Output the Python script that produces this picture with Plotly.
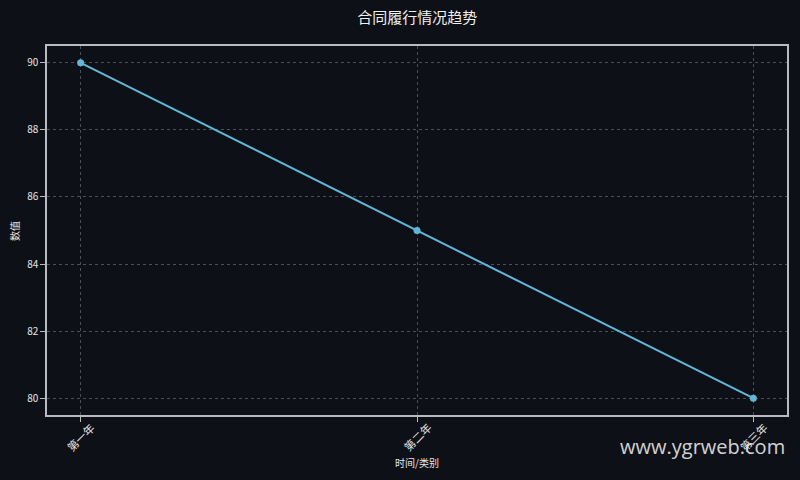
import plotly.graph_objects as go

# 数据
categories = ["第一年", "第二年", "第三年"]
values = [90, 85, 80]

title_text = "合同履行情况趋势"
x_title = "时间/类别"
y_title = "数值"
watermark = "www.ygrweb.com"

bg = "#0d1117"
line_color = "#62b6d8"
grid_color = "#4a4f57"
axis_color = "#b8bcc2"
font_family = "Noto Sans CJK SC, DejaVu Sans, sans-serif"

fig = go.Figure()
fig.add_trace(go.Scatter(
    x=categories,
    y=values,
    mode="lines+markers",
    line=dict(color=line_color, width=2),
    marker=dict(color=line_color, size=7),
    showlegend=False,
))

fig.update_layout(
    width=800,
    height=480,
    paper_bgcolor=bg,
    plot_bgcolor=bg,
    font=dict(family=font_family, color="#e6e6e6", size=10),
    margin=dict(l=47, r=13, t=46, b=65),
    title=dict(
        text=title_text,
        x=0.5215, xanchor="center",
        y=0.963, yanchor="middle",
        font=dict(size=15, color="#f0f0f0"),
    ),
)

fig.update_xaxes(
    type="category",
    range=[-0.1, 2.1],
    showticklabels=False,
    automargin=False,
    ticks="outside", ticklen=5, tickcolor=axis_color,
    showline=True, linecolor=axis_color, linewidth=1.5, mirror=True,
    showgrid=True, gridcolor=grid_color, griddash="3px,3px", gridwidth=1,
    zeroline=False,
)
fig.update_yaxes(
    range=[79.5, 90.5],
    dtick=2,
    automargin=False,
    ticks="outside", ticklen=5, tickcolor=axis_color,
    showline=True, linecolor=axis_color, linewidth=1.5, mirror=True,
    showgrid=True, gridcolor=grid_color, griddash="3px,3px", gridwidth=1,
    zeroline=False,
    tickfont=dict(size=10),
)

# x tick labels: rotated 45 degrees, centred under each tick
for cat in categories:
    fig.add_annotation(
        text=cat, x=cat, xref="x", y=-0.06, yref="paper",
        xanchor="center", yanchor="middle", textangle=-45,
        showarrow=False, font=dict(size=11),
    )

# axis titles placed by hand
fig.add_annotation(
    text=x_title, xref="paper", yref="paper",
    x=0.5, y=-0.129, xanchor="center", yanchor="middle",
    showarrow=False, font=dict(size=10),
)
fig.add_annotation(
    text=y_title, xref="paper", yref="paper",
    x=-0.044, y=0.5, xanchor="center", yanchor="middle",
    textangle=-90, showarrow=False, font=dict(size=10),
)

fig.add_annotation(
    text=watermark,
    xref="paper", yref="paper",
    x=1.0, y=-0.085,
    xanchor="right", yanchor="middle",
    showarrow=False,
    font=dict(size=20, color="rgba(235,235,235,0.9)", family="Open Sans, DejaVu Sans, sans-serif"),
)

# page margin off so the figure sits at the window corner
fig.write_html("out.html", config={"displayModeBar": False},
               post_script="document.body.style.margin='0';")
